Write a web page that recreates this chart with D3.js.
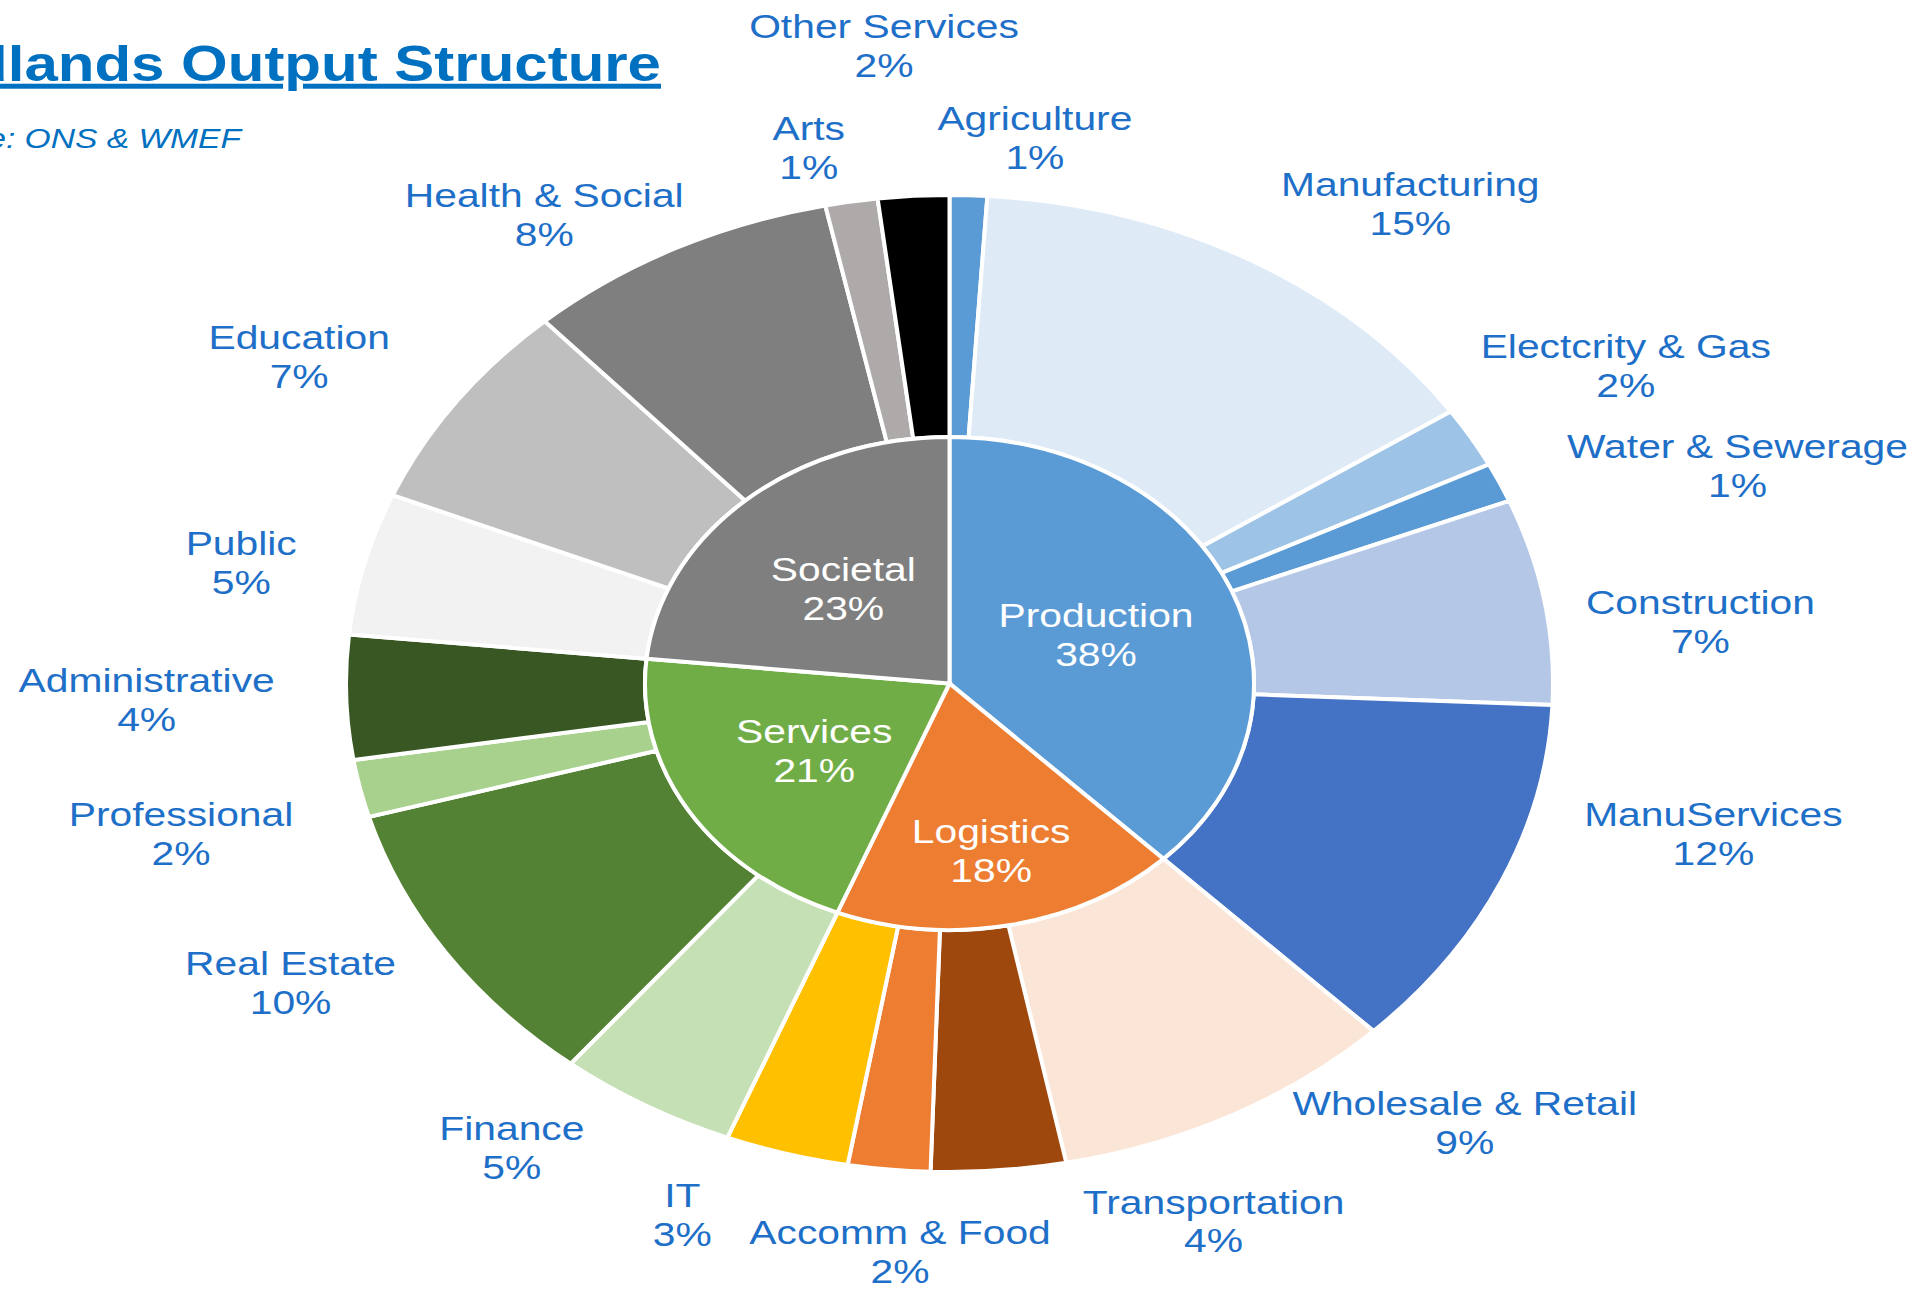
<!DOCTYPE html>
<html lang="en">
<head>
<meta charset="UTF-8">
<title>West Midlands Output Structure</title>
<script src="https://cdn.jsdelivr.net/npm/d3@7"></script>
<style>
    html, body { margin: 0; padding: 0; background: #fff; overflow: hidden; }
    svg text { font-family: "Liberation Sans", Arial, sans-serif; }
</style>
</head>
<body>
<svg id="chart" width="1927" height="1292"></svg>
<script>
    // sectors, clockwise from 12 o'clock (share of output, %)
    var sectors = ["Agriculture", "Manufacturing", "Electcrity & Gas", "Water & Sewerage", "Construction", "ManuServices",
        "Wholesale & Retail", "Transportation", "Accomm & Food", "IT",
        "Finance", "Real Estate", "Professional", "Administrative",
        "Public", "Education", "Health & Social", "Arts", "Other Services"];
    var sectorValues = [1.0, 14.6, 2.0, 1.3, 6.8, 11.9,
        9.3, 3.6, 2.2, 3.3,
        4.8, 9.8, 1.9, 4.1,
        4.7, 7.0, 8.4, 1.4, 1.9];
    var sectorGroups = ["Production", "Production", "Production", "Production", "Production", "Production",
        "Logistics", "Logistics", "Logistics", "Logistics",
        "Services", "Services", "Services", "Services",
        "Societal", "Societal", "Societal", "Societal", "Societal"];
    var groups = ["Production", "Logistics", "Services", "Societal"];

    // colours
    var groupColor = d3.scaleOrdinal()
        .domain(groups)
        .range(["#5B9BD5", "#ED7D31", "#70AD47", "#7F7F7F"]);
    var sectorColor = d3.scaleOrdinal()
        .domain(sectors)
        .range(["#5B9BD5", "#DEEBF7", "#9DC3E6", "#5B9BD5", "#B4C7E7", "#4472C4",
            "#FBE5D6", "#9E480E", "#ED7D31", "#FFC000",
            "#C5E0B4", "#548235", "#A9D18E", "#385723",
            "#F2F2F2", "#BFBFBF", "#7F7F7F", "#AEAAAA", "#000000"]);

    // geometry (the picture is a stretched circle)
    var cx = 949.5, cy = 683.5;
    var rOuter = 488.5, rInner = 246.5;
    var stretch = 603.5 / 488.5;
    var textStretch = 1.2;
    var labelBlue = "#1E6FC8";

    // hand nudges so the labels sit where Excel put them
    var nudge = {
        "Agriculture": [63, 30], "Manufacturing": [106, 20], "Electcrity & Gas": [61, -28],
        "Water & Sewerage": [139, 19], "Construction": [49, 35], "ManuServices": [113, -84],
        "Wholesale & Retail": [182, -70], "Transportation": [206, -37], "Accomm & Food": [22, -6],
        "IT": [-75, -24], "Finance": [-79, -34], "Real Estate": [-65, -19], "Professional": [-73, 26],
        "Administrative": [-91, 0], "Public": [-18, 21], "Education": [-69, 6],
        "Health & Social": [-82, 45], "Arts": [-25, 33], "Other Services": [-23, -63],
        "Logistics": [10, 41]
    };

    var leafData = sectors.map(function (s, i) {
        return {name: s, value: sectorValues[i], group: sectorGroups[i]};
    });
    var sums = d3.rollup(leafData, function (v) { return d3.sum(v, function (d) { return d.value; }); },
        function (d) { return d.group; });
    var groupData = groups.map(function (g) { return {name: g, value: sums.get(g)}; });

    var pie = d3.pie().sort(null).value(function (d) { return d.value; });
    var outerArcs = pie(leafData);
    var innerArcs = pie(groupData);

    var svg = d3.select("#chart");

    var ring = svg.append("g")
        .attr("transform", "translate(" + cx + "," + cy + ") scale(" + stretch + ",1)");

    var arcOuter = d3.arc().innerRadius(rInner).outerRadius(rOuter);
    var arcInner = d3.arc().innerRadius(0).outerRadius(rInner);

    ring.selectAll("path.sector")
        .data(outerArcs)
        .enter()
        .append("path")
        .attr("class", "sector")
        .attr("d", arcOuter)
        .attr("fill", function (d) { return sectorColor(d.data.name); })
        .attr("stroke", "#fff")
        .attr("stroke-width", 4)
        .attr("vector-effect", "non-scaling-stroke");

    ring.selectAll("path.group")
        .data(innerArcs)
        .enter()
        .append("path")
        .attr("class", "group")
        .attr("d", arcInner)
        .attr("fill", function (d) { return groupColor(d.data.name); })
        .attr("stroke", "#fff")
        .attr("stroke-width", 4)
        .attr("vector-effect", "non-scaling-stroke");

    function pct(v) {
        return Math.round(Math.round(v * 10) / 10) + "%";
    }

    function addLabel(x, y, lines, color) {
        var t = svg.append("g")
            .attr("transform", "translate(" + x + "," + y + ") scale(" + textStretch + ",1)")
            .append("text")
            .attr("text-anchor", "middle")
            .attr("fill", color)
            .attr("font-size", 34);
        t.append("tspan").attr("x", 0).attr("y", -7.5).text(lines[0]);
        t.append("tspan").attr("x", 0).attr("y", 31.5).text(lines[1]);
    }

    function point(a, r, k) {
        return [cx + r * k * stretch * Math.sin(a), cy - r * k * Math.cos(a)];
    }

    // outer labels
    outerArcs.forEach(function (d) {
        var mid = (d.startAngle + d.endAngle) / 2;
        var p = point(mid, rOuter, 1.18);
        var n = nudge[d.data.name] || [0, 0];
        addLabel(p[0] + n[0], p[1] + n[1], [d.data.name, pct(d.data.value)], labelBlue);
    });

    // inner labels
    innerArcs.forEach(function (d) {
        var mid = (d.startAngle + d.endAngle) / 2;
        var p = point(mid, rInner, 0.52);
        var n = nudge[d.data.name] || [0, 0];
        addLabel(p[0] + n[0], p[1] + n[1], [d.data.name, pct(d.data.value)], "#fff");
    });

    // title (cut off at the left edge like the source picture)
    svg.append("g")
        .attr("transform", "translate(661,81) scale(" + textStretch + ",1)")
        .append("text")
        .attr("text-anchor", "end")
        .attr("fill", "#0070C0")
        .attr("font-size", 50)
        .attr("font-weight", "bold")
        .attr("text-decoration", "underline")
        .text("West Midlands Output Structure");

    svg.append("g")
        .attr("transform", "translate(241,148) scale(" + textStretch + ",1)")
        .append("text")
        .attr("text-anchor", "end")
        .attr("fill", "#0070C0")
        .attr("font-size", 28)
        .attr("font-style", "italic")
        .text("Source: ONS & WMEF");
</script>
</body>
</html>
